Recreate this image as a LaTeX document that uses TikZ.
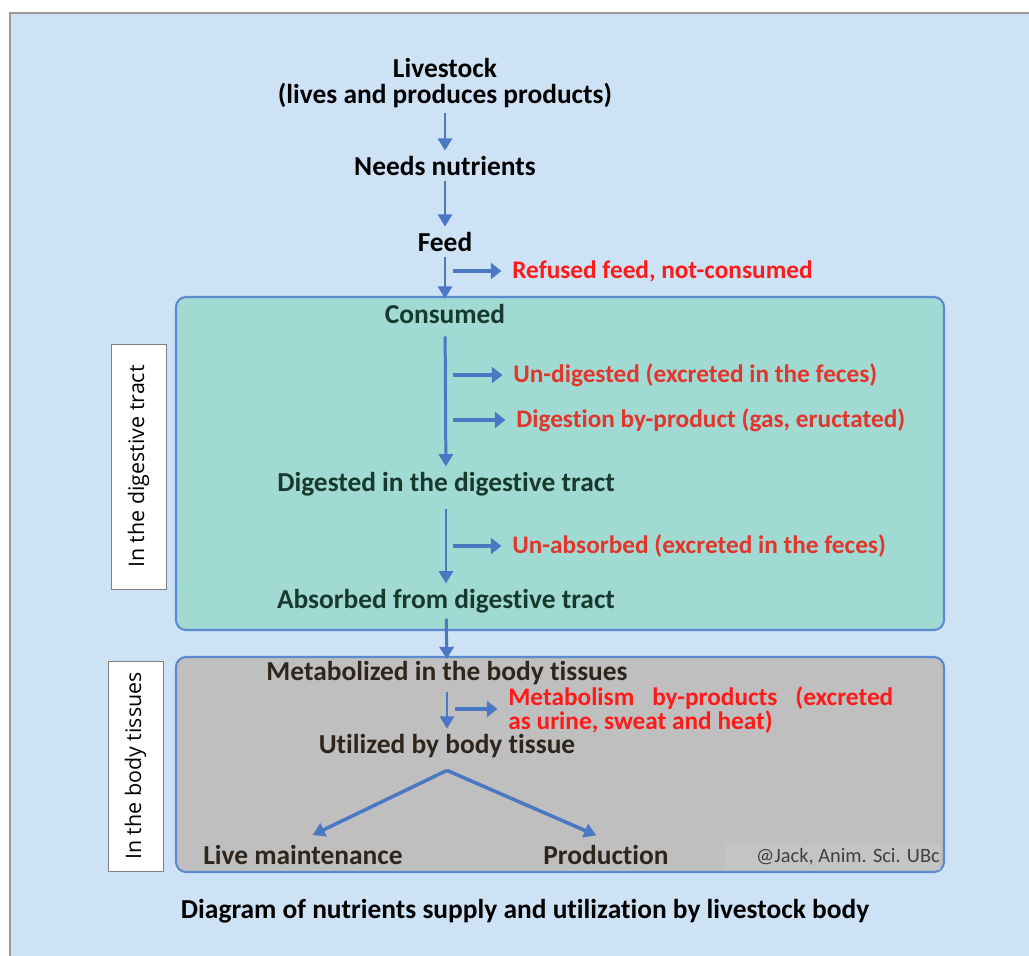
\documentclass[tikz,border=0pt]{standalone}
\usepackage{fontspec}
\setmainfont{Carlito}[Ligatures=NoCommon]
\newfontfamily\sidefont{Open Sans}
\usetikzlibrary{arrows.meta,positioning}
\definecolor{bgblue}{HTML}{CDE3F5}
\definecolor{framegray}{HTML}{9C9C9C}
\definecolor{tealfill}{HTML}{A1D9D3}
\definecolor{tissuefill}{HTML}{BFBFBF}
\definecolor{creditfill}{HTML}{C4C4C4}
\definecolor{edgeblue}{HTML}{5B8AD2}
\definecolor{flowblue}{HTML}{4A78C2}
\definecolor{lossred}{HTML}{FF1A1A}
\definecolor{gutred}{HTML}{E2352B}
\definecolor{gutgreen}{HTML}{183A2E}
\definecolor{bodybrown}{HTML}{2E251C}
\newcommand{\bigtxt}{\fontsize{15.6}{14.5}\selectfont\bfseries}
\newcommand{\losstxt}{\fontsize{14.4}{12.5}\selectfont\bfseries}

\tikzset{
  stage/.style={font=\bigtxt,text=black,align=center,inner sep=3pt},
  loss/.style={font=\losstxt,text=lossred,anchor=west,align=left,inner sep=0pt},
  flow/.style={draw=flowblue,line width=1.7pt,-{Triangle[length=7pt,width=8pt]}},
  sideflow/.style={draw=flowblue,line width=2.4pt,shorten >=6pt,-{Triangle[length=6pt,width=9pt]}},
  zone/.style={draw=edgeblue,line width=1.2pt,rounded corners=0.2cm},
  tag/.style={draw=gray,fill=white,rotate=90,font=\sidefont\fontsize{12.2}{14}\selectfont,minimum height=1.1cm},
}

\begin{document}
\begin{tikzpicture}[x=0.02cm,y=-0.02cm]
  \useasboundingbox (0,0) rectangle (1029,956);
  \fill[bgblue] (10,13) rectangle (1029,956);
  \draw[framegray,line width=1.5pt] (10,956) -- (10,13) -- (1029,13);
  % regions
  \draw[zone,fill=tealfill] (176,297) rectangle (944,630);
  \draw[zone,fill=tissuefill] (176,657) rectangle (944,872);
  \fill[creditfill] (725,845) rectangle (940,870);
  \node[tag,minimum width=4.9cm] (gut) at (138.5,466.5) {In the digestive tract};
  \node[tag,minimum width=4.2cm] (body) at (135.5,766) {In the body tissues};

  % main chain
  \node[stage] (live) at (445,83) {Livestock\\(lives and produces products)};
  \node[stage] (needs) at (445,166) {Needs nutrients};
  \node[stage] (feed) at (445,242) {Feed};
  \node[stage,text=gutgreen] (consumed) at (445,314) {Consumed};
  \node[stage,text=gutgreen] (digested) at (446,484) {Digested in the digestive tract};
  \node[stage,text=gutgreen] (absorbed) at (446,601) {Absorbed from digestive tract};
  \node[stage,text=bodybrown,inner sep=1pt] (metab) at (447,673) {Metabolized in the body tissues};
  \node[stage,text=bodybrown] (util) at (447,746) {Utilized by body tissue};
  \node[stage,text=bodybrown] (keep) at (303,855) {Live maintenance};
  \node[stage,text=bodybrown] (prod) at (606,855) {Production};
  \coordinate (fork) at ([yshift=-4pt]util.south);

  % losses
  \node[loss] (refused) at (512,271) {Refused feed, not-consumed};
  \node[loss,text=gutred] (undig) at (513,375) {Un-digested (excreted in the feces)};
  \node[loss,text=gutred] (gas) at (516,420) {Digestion by-product (gas, eructated)};
  \node[loss,text=gutred] (unabs) at (512,546) {Un-absorbed (excreted in the feces)};
  \node[loss] (waste) at (508,710) {\makebox[7.7cm][s]{Metabolism by-products (excreted}\\as urine, sweat and heat)};
  \coordinate (f1) at (453,271);
  \coordinate (f2) at (453,375);
  \coordinate (f3) at (453,420);
  \coordinate (f4) at (453,546);
  \coordinate (f5) at (455,709);

  \draw[flow] (live) -- (needs);
  \draw[flow] (needs) -- (feed);
  \draw[flow] (feed) -- (consumed);
  \draw[flow,shorten <=4pt] (consumed) -- (digested);
  \draw[flow,shorten <=4pt] (digested) -- (absorbed);
  \draw[flow] (absorbed) -- (metab);
  \draw[flow,shorten <=3pt] (metab) -- (util);
  \draw[flow,line width=2pt,shorten >=6pt] (fork) -- (keep.north);
  \draw[flow,line width=2pt,shorten >=6pt] (fork) -- (prod.north);
  \foreach \f/\t in {f1/refused,f2/undig,f3/gas,f4/unabs,f5/waste}
    \draw[sideflow] (\f) -- (\f -| \t.west);

  % credit and caption
  \begin{scope}
    \clip (725,845) rectangle (940,870);
    \node[font=\fontsize{11.6}{13}\selectfont,text=black!75,anchor=west] (credit) at (750,857) {@Jack, Anim. Sci. UBc};
  \end{scope}
  \node[stage] (title) at (525,911) {Diagram of nutrients supply and utilization by livestock body};
\end{tikzpicture}
\end{document}
